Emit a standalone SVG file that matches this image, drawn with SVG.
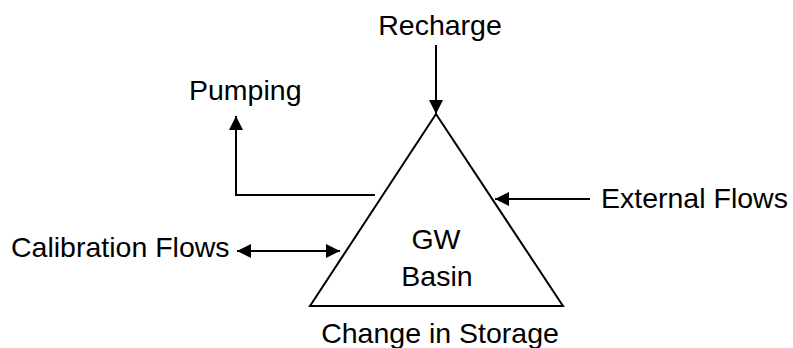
<svg xmlns="http://www.w3.org/2000/svg" width="793" height="348" viewBox="0 0 793 348">
<style>
text{font-family:"Liberation Sans",Arial,sans-serif;font-size:28.5px;fill:#000}
.ln{fill:none;stroke:#000;stroke-width:2}
</style>
<defs>
<marker id="ah" viewBox="0 0 14 14" refX="14" refY="7" markerWidth="14" markerHeight="14" markerUnits="userSpaceOnUse" orient="auto-start-reverse">
<path d="M0,0 L14,7 L0,14 z" fill="#000"/>
</marker>
</defs>
<rect width="793" height="348" fill="#fff"/>
<g id="basin">
<polygon class="ln" points="436,114 310,306 563,306"/>
<text x="436" y="249" text-anchor="middle">GW</text>
<text x="437" y="286" text-anchor="middle">Basin</text>
</g>
<g id="recharge"><text x="440" y="35" text-anchor="middle">Recharge</text></g>
<g id="pumping"><text x="189" y="100">Pumping</text></g>
<g id="external"><text x="601" y="208">External Flows</text></g>
<g id="calibration"><text x="11" y="257">Calibration Flows</text></g>
<g id="storage"><text x="440" y="343" text-anchor="middle">Change in Storage</text></g>
<g id="connectors">
<path class="ln" d="M436,45 L436,114" marker-end="url(#ah)"/>
<path class="ln" d="M375,195 L236,195 L236,116" marker-end="url(#ah)"/>
<path class="ln" d="M590,199 L495,199" marker-end="url(#ah)"/>
<path class="ln" d="M237,251 L340,251" marker-start="url(#ah)" marker-end="url(#ah)"/>
</g>
</svg>
